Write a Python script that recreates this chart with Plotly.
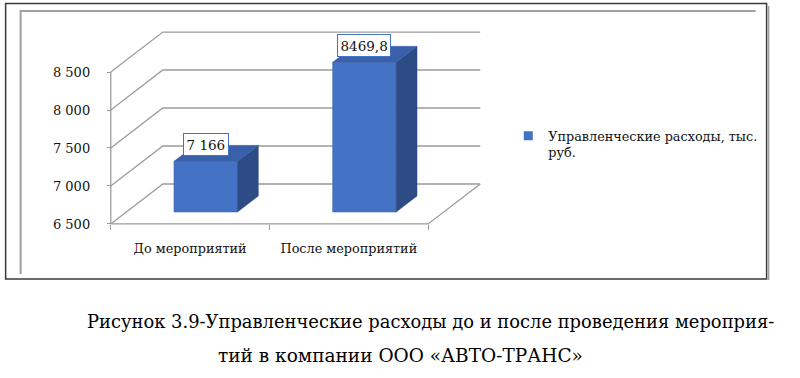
import plotly.graph_objects as go

# ---------------- data ----------------
categories = ["До мероприятий", "После мероприятий"]
values = [7166, 8469.8]
value_labels = ["7 166", "8469,8"]
series_name = "Управленческие расходы, тыс.<br>руб."
y_ticks = [6500, 7000, 7500, 8000, 8500]
caption_lines = [
    "Рисунок 3.9-Управленческие расходы до и после проведения мероприя-",
    "тий в компании ООО «АВТО-ТРАНС»",
]

# ---------------- geometry (pseudo-3D) ----------------
W_FIG, H_FIG = 800, 378
SX = 158.5          # px per category (front plane)
SY = 0.076          # px per value unit
DX = 52 / SX        # depth offset in x units
DY = 40 / SY        # depth offset in value units
T0 = 0.3            # depth position of bar front face
BW = 0.4            # bar width (category units)
BD = 0.4            # bar depth fraction
PADX, PADY = 0.03, 40

n = len(categories)
base_v = y_ticks[0]
x_lo, x_hi = -PADX, n + DX + PADX
y_lo, y_hi = base_v - PADY, y_ticks[-1] + DY + PADY
X0_PX, Y0_PX = 111, 224
left = X0_PX - PADX * SX
right = left + (x_hi - x_lo) * SX
bottom = Y0_PX + PADY * SY
top = bottom - (y_hi - y_lo) * SY


def fx(px):
    return (px - left) / (right - left)


def fy(py):
    return (bottom - py) / (bottom - top)


SERIF = "DejaVu Serif"
FRONT = "#4472C4"
SIDE = "#2D4B85"
TOPC = "#3960A8"
GRID = "#9C9C9C"
TXT = "#111111"

fig = go.Figure()

# front faces
centers = [i + 0.5 for i in range(n)]
fig.add_trace(go.Bar(
    x=[c + T0 * DX for c in centers],
    y=[v - base_v for v in values],
    base=[base_v + T0 * DY] * n,
    width=BW,
    marker=dict(color=FRONT, line=dict(color="#3B66B3", width=0.6)),
    showlegend=False, hoverinfo="skip",
))

# side and top faces
for c, v in zip(centers, values):
    xl = c + T0 * DX - BW / 2
    xr = c + T0 * DX + BW / 2
    y0 = base_v + T0 * DY
    yt = v + T0 * DY
    fig.add_trace(go.Scatter(
        x=[xr, xr, xr + BD * DX, xr + BD * DX, xr],
        y=[y0, yt, yt + BD * DY, y0 + BD * DY, y0],
        fill="toself", fillcolor=SIDE, mode="lines",
        line=dict(color=SIDE, width=0.5), showlegend=False, hoverinfo="skip"))
    fig.add_trace(go.Scatter(
        x=[xl, xr, xr + BD * DX, xl + BD * DX, xl],
        y=[yt, yt, yt + BD * DY, yt + BD * DY, yt],
        fill="toself", fillcolor=TOPC, mode="lines",
        line=dict(color=TOPC, width=0.5), showlegend=False, hoverinfo="skip"))

# legend entry
fig.add_trace(go.Scatter(
    x=[None], y=[None], mode="markers", name=series_name,
    marker=dict(symbol="square", size=9, color=FRONT, line=dict(width=0)),
))

shapes = []
for v in y_ticks:
    shapes.append(dict(
        type="path", xref="x", yref="y", layer="below",
        path=f"M0,{v} L{DX},{v + DY} L{n + DX},{v + DY}",
        line=dict(color=GRID, width=1.3)))
shapes.append(dict(
    type="path", xref="x", yref="y", layer="below",
    path=f"M0,{base_v} L{n},{base_v} L{n + DX},{base_v + DY}",
    line=dict(color=GRID, width=1.3)))
shapes.append(dict(type="line", xref="x", yref="y", layer="below",
                   x0=0, x1=0, y0=y_ticks[0], y1=y_ticks[-1],
                   line=dict(color=GRID, width=1.3)))

# frames (pixel based)
shapes.append(dict(type="rect", xref="paper", yref="paper",
                   x0=fx(6), x1=fx(766), y0=fy(279), y1=fy(3.5),
                   line=dict(color="#3A3A3A", width=1.5)))
shapes.append(dict(type="line", xref="paper", yref="paper",
                   x0=fx(768), x1=fx(768), y0=fy(280), y1=fy(6),
                   line=dict(color="#A0A0A0", width=1.5)))
shapes.append(dict(type="path", xref="paper", yref="paper",
                   path=f"M{fx(21)},{fy(274)} L{fx(21)},{fy(11)} L{fx(755)},{fy(11)}",
                   line=dict(color="#A0A0A0", width=2)))

annotations = []
for c, v, lab in zip(centers, values, value_labels):
    annotations.append(dict(
        x=c + T0 * DX, y=v + T0 * DY, xref="x", yref="y",
        text=lab, showarrow=False, xanchor="center", yanchor="bottom", yshift=5,
        font=dict(family=SERIF, size=13.5, color=TXT),
        bgcolor="white", bordercolor=FRONT, borderwidth=1, borderpad=2.5))

annotations.append(dict(x=fx(430), y=fy(322), xref="paper", yref="paper",
                        text=caption_lines[0], showarrow=False,
                        xanchor="center", yanchor="middle",
                        font=dict(family=SERIF, size=17.9, color="#000")))
annotations.append(dict(x=fx(400), y=fy(356), xref="paper", yref="paper",
                        text=caption_lines[1], showarrow=False,
                        xanchor="center", yanchor="middle",
                        font=dict(family=SERIF, size=18.5, color="#000")))

fig.update_layout(
    width=W_FIG, height=H_FIG,
    margin=dict(l=left, r=W_FIG - right, t=top, b=H_FIG - bottom, autoexpand=False),
    paper_bgcolor="white", plot_bgcolor="rgba(0,0,0,0)",
    separators=", ",
    font=dict(family=SERIF, size=13, color=TXT),
    xaxis=dict(range=[x_lo, x_hi], anchor="free", position=fy(Y0_PX),
               tickvals=centers, ticktext=categories, ticks="",
               tickfont=dict(family=SERIF, size=12.8, color=TXT),
               showgrid=False, zeroline=False, showline=False,
               ticklabelstandoff=15,
               minor=dict(tickvals=list(range(n + 1)), ticks="outside",
                          ticklen=5, tickcolor=GRID, tickwidth=1.3, showgrid=False)),
    yaxis=dict(range=[y_lo, y_hi], anchor="free", position=fx(X0_PX),
               tickvals=y_ticks, tickformat=",d", ticks="outside",
               ticklen=4, tickcolor=GRID, tickwidth=1.3,
               tickfont=dict(family=SERIF, size=13, color=TXT),
               showgrid=False, zeroline=False, showline=False,
               ticklabelstandoff=14),
    showlegend=True,
    legend=dict(x=fx(508), y=fy(121), xanchor="left", yanchor="top",
                valign="top", bgcolor="rgba(0,0,0,0)",
                font=dict(family=SERIF, size=12.8, color=TXT)),
    shapes=shapes,
    annotations=annotations,
)

fig.write_html(
    "out.html",
    config={"displayModeBar": False},
    post_script="document.body.style.margin='0';document.body.style.overflow='hidden';",
)
